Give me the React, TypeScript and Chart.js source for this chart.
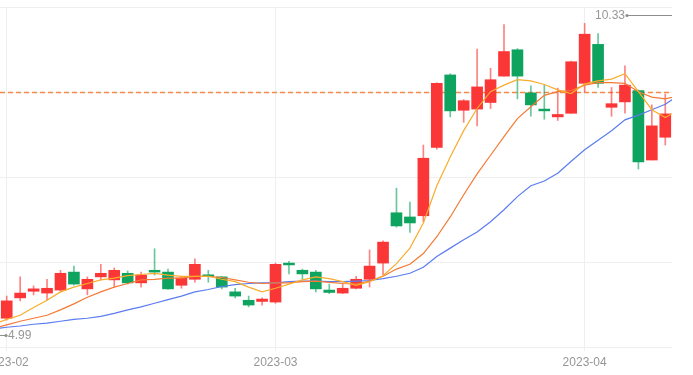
import React, { useEffect, useRef } from "react";
import { Chart, registerables } from "chart.js";

Chart.register(...registerables);

// Trading sessions shown in the window
const dates = [
  "2023-02-01", "2023-02-02", "2023-02-03", "2023-02-06", "2023-02-07", "2023-02-08", "2023-02-09", "2023-02-10",
  "2023-02-13", "2023-02-14", "2023-02-15", "2023-02-16", "2023-02-17", "2023-02-20", "2023-02-21", "2023-02-22",
  "2023-02-23", "2023-02-24", "2023-02-27", "2023-02-28",
  "2023-03-01", "2023-03-02", "2023-03-03", "2023-03-06", "2023-03-07", "2023-03-08", "2023-03-09", "2023-03-10",
  "2023-03-13", "2023-03-14", "2023-03-15", "2023-03-16", "2023-03-17", "2023-03-20", "2023-03-21", "2023-03-22",
  "2023-03-23", "2023-03-24", "2023-03-27", "2023-03-28", "2023-03-29", "2023-03-30", "2023-03-31",
  "2023-04-03", "2023-04-04", "2023-04-06", "2023-04-07", "2023-04-10", "2023-04-11", "2023-04-12",
];

const opens = [
  5.27, 5.61, 5.72, 5.69, 5.74, 6.04, 5.76, 5.96, 5.91, 6.02,
  5.86, 6.07, 6.04, 5.82, 5.92, 5.99, 5.96, 5.71, 5.57, 5.55,
  5.54, 6.19, 6.07, 6.04, 5.74, 5.69, 5.77, 5.92, 6.19, 7.03,
  6.96, 6.98, 8.12, 9.33, 8.74, 8.76, 8.87, 9.31, 9.75, 9.03,
  8.76, 8.63, 8.69, 9.19, 9.84, 8.79, 8.88, 9.07, 7.91, 8.29,
];
const highs = [
  5.64, 5.96, 5.81, 5.92, 6.07, 6.14, 5.96, 6.17, 6.11, 6.06,
  6.04, 6.43, 6.09, 5.97, 6.26, 6.07, 5.97, 5.77, 5.64, 5.61,
  6.19, 6.22, 6.09, 6.07, 5.84, 5.84, 5.97, 6.41, 6.56, 7.44,
  7.21, 8.16, 9.20, 9.35, 8.92, 9.76, 9.44, 10.17, 9.77, 9.15,
  9.16, 9.11, 9.56, 10.19, 10.02, 9.12, 9.48, 9.08, 8.83, 9.01,
];
const lows = [
  5.24, 5.56, 5.66, 5.57, 5.71, 5.82, 5.66, 5.91, 5.79, 5.84,
  5.79, 5.99, 5.75, 5.77, 5.87, 5.87, 5.76, 5.61, 5.46, 5.49,
  5.52, 6.01, 5.92, 5.71, 5.68, 5.68, 5.76, 5.79, 5.99, 6.79,
  6.70, 6.88, 8.09, 8.63, 8.54, 8.48, 8.77, 9.31, 8.93, 8.64,
  8.59, 8.57, 8.69, 9.05, 9.12, 8.64, 8.69, 7.76, 7.91, 8.16,
];
const closes = [
  5.56, 5.69, 5.76, 5.77, 6.02, 5.84, 5.92, 6.02, 6.07, 5.86,
  5.99, 6.04, 5.76, 5.94, 6.17, 5.97, 5.79, 5.64, 5.49, 5.59,
  6.17, 6.16, 6.01, 5.76, 5.70, 5.77, 5.92, 6.14, 6.54, 6.81,
  6.86, 7.94, 9.19, 8.73, 8.90, 9.13, 9.25, 9.72, 9.31, 8.83,
  8.73, 8.67, 9.55, 10.01, 9.19, 8.85, 9.16, 7.88, 8.48, 8.68,
];

// Moving averages: first value = session before dates[0], last value = session after the last date
const ma5 = [
  5.17, 5.25, 5.32, 5.45, 5.57, 5.71, 5.79, 5.85, 5.91, 5.94, 5.98,
  6.00, 6.02, 5.99, 5.97, 5.97, 5.97, 5.92, 5.88, 5.79, 5.71,
  5.77, 5.84, 5.91, 5.96, 5.93, 5.88, 5.82, 5.88, 5.98, 6.18,
  6.44, 6.86, 7.48, 7.96, 8.40, 8.77, 9.05, 9.16, 9.25, 9.23,
  9.17, 9.08, 9.02, 9.18, 9.23, 9.26, 9.35, 9.05, 8.75, 8.62, 8.75,
];
const ma10 = [
  5.10, 5.16, 5.22, 5.27, 5.32, 5.41, 5.51, 5.62, 5.71, 5.79, 5.85,
  5.91, 5.92, 5.94, 5.94, 5.97, 5.97, 5.95, 5.91, 5.87, 5.85,
  5.86, 5.86, 5.88, 5.89, 5.87, 5.85, 5.84, 5.89, 5.97, 6.09,
  6.17, 6.35, 6.63, 6.96, 7.33, 7.68, 7.99, 8.30, 8.60, 8.80,
  8.99, 9.05, 9.07, 9.16, 9.20, 9.20, 9.19, 9.05, 8.96, 8.93, 8.98,
];
const ma20 = [
  5.09, 5.12, 5.14, 5.17, 5.19, 5.22, 5.25, 5.27, 5.30, 5.35, 5.41,
  5.46, 5.52, 5.58, 5.64, 5.71, 5.75, 5.80, 5.83, 5.85, 5.86,
  5.86, 5.88, 5.89, 5.89, 5.88, 5.88, 5.89, 5.90, 5.93, 5.97,
  6.02, 6.12, 6.30, 6.44, 6.58, 6.71, 6.88, 7.08, 7.30, 7.48,
  7.56, 7.69, 7.89, 8.08, 8.24, 8.40, 8.58, 8.66, 8.75, 8.84, 8.99,
];

const highMark = 10.33;
const lowMark = 4.99;
const refPrice = 9.05;
const yMin = 4.79;
const yMax = 10.4635;

const UP = "#fb3636";
const DOWN = "#0ea460";
const UP_WICK = "rgba(251,54,54,0.62)";
const DOWN_WICK = "rgba(14,164,96,0.62)";
const GRID = "#efefef";
const TEXT = "#979797";

const monthTicks = dates
  .map((d, i) => ({ i, m: d.slice(0, 7) }))
  .filter((o, k, arr) => k === 0 || arr[k - 1].m !== o.m);

const marksPlugin = {
  id: "marks",
  beforeDatasetsDraw(chart: any) {
    const { ctx, chartArea, scales } = chart;
    const py = Math.round(scales.y.getPixelForValue(refPrice)) + 0.5;
    ctx.save();
    ctx.strokeStyle = "#f6894a";
    ctx.lineWidth = 1.3;
    ctx.setLineDash([5, 3]);
    ctx.beginPath();
    ctx.moveTo(chartArea.left, py);
    ctx.lineTo(chartArea.right, py);
    ctx.stroke();
    ctx.restore();
  },
  afterDatasetsDraw(chart: any) {
    const { ctx, chartArea, scales } = chart;
    ctx.save();
    ctx.font = "12px 'Liberation Sans', Arial, sans-serif";
    ctx.fillStyle = TEXT;
    ctx.strokeStyle = "#8e8e8e";
    ctx.lineWidth = 1;
    // high marker
    const yh = Math.round(scales.y.getPixelForValue(highMark)) + 0.5;
    const xr = chartArea.right;
    const xd = xr - 45;
    ctx.beginPath();
    ctx.moveTo(xr, yh);
    ctx.lineTo(xd, yh);
    ctx.stroke();
    ctx.beginPath();
    ctx.arc(xd, yh, 1.6, 0, Math.PI * 2);
    ctx.fillStyle = "#8e8e8e";
    ctx.fill();
    ctx.fillStyle = TEXT;
    ctx.textAlign = "right";
    ctx.textBaseline = "middle";
    ctx.fillText(highMark.toFixed(2), xd - 2, yh);
    // low marker
    const yl = Math.round(scales.y.getPixelForValue(lowMark)) + 0.5;
    const xl = chartArea.left;
    const xd2 = xl + 6;
    ctx.beginPath();
    ctx.moveTo(xl, yl);
    ctx.lineTo(xd2, yl);
    ctx.stroke();
    ctx.beginPath();
    ctx.arc(xd2, yl, 1.6, 0, Math.PI * 2);
    ctx.fillStyle = "#8e8e8e";
    ctx.fill();
    ctx.fillStyle = TEXT;
    ctx.textAlign = "left";
    ctx.fillText(lowMark.toFixed(2), xd2 + 2, yl);
    ctx.restore();
  },
};

export default function App() {
  const ref = useRef<HTMLCanvasElement | null>(null);

  useEffect(() => {
    if (!ref.current) return;
    Chart.defaults.font.family = "'Liberation Sans', Arial, sans-serif";
    const isUp = opens.map((o, i) => closes[i] >= o);
    const maLine = (arr: number[], color: string, label: string) => ({
      type: "line" as const,
      label,
      data: arr.map((v, k) => ({ x: k - 1, y: v })),
      borderColor: color,
      borderWidth: 1.2,
      pointRadius: 0,
      tension: 0,
      fill: false,
      order: 0,
    });
    const chart = new Chart(ref.current, {
      type: "bar",
      data: {
        datasets: [
          maLine(ma5, "#f9ac2c", "MA5"),
          maLine(ma10, "#f47a35", "MA10"),
          maLine(ma20, "#5b7cf0", "MA20"),
          {
            type: "bar",
            label: "body",
            data: opens.map((o, i) => ({ x: i, y: [Math.min(o, closes[i]), Math.max(o, closes[i])] })),
            backgroundColor: isUp.map((u) => (u ? UP : DOWN)),
            borderWidth: 0,
            barThickness: 11,
            minBarLength: 1.5,
            grouped: false,
            order: 1,
          } as any,
          {
            type: "bar",
            label: "wick",
            data: lows.map((l, i) => ({ x: i, y: [l, highs[i]] })),
            backgroundColor: isUp.map((u) => (u ? UP_WICK : DOWN_WICK)),
            borderWidth: 0,
            barThickness: 1,
            grouped: false,
            order: 2,
          } as any,
        ],
      },
      options: {
        animation: false,
        responsive: false,
        devicePixelRatio: 1,
        layout: { padding: { top: 7, right: 21, left: 0, bottom: 0 } },
        plugins: { legend: { display: false }, tooltip: { enabled: false } },
        scales: {
          x: {
            type: "linear",
            min: -0.5,
            max: dates.length - 0.5,
            offset: false,
            afterBuildTicks: (scale: any) => {
              scale.ticks = monthTicks.map((t) => ({ value: t.i }));
            },
            afterFit: (scale: any) => {
              scale.paddingLeft = 0;
              scale.paddingRight = 0;
              scale.height = 28;
            },
            ticks: {
              autoSkip: false,
              maxRotation: 0,
              padding: 4,
              color: TEXT,
              font: { size: 12 },
              callback: (value: any) => {
                const t = monthTicks.find((m) => m.i === value);
                return t ? t.m : "";
              },
            },
            grid: { color: GRID, tickLength: 4, offset: false },
            border: { display: false },
          },
          y: {
            type: "linear",
            position: "right",
            min: yMin,
            max: yMax,
            afterBuildTicks: (scale: any) => {
              const step = (yMax - yMin) / 4;
              scale.ticks = [0, 1, 2, 3, 4].map((k) => ({ value: yMin + k * step }));
            },
            afterFit: (scale: any) => {
              scale.width = 0;
            },
            ticks: { display: false },
            grid: { color: GRID, drawTicks: false },
            border: { display: false },
          },
        },
      } as any,
      plugins: [marksPlugin],
    });
    return () => chart.destroy();
  }, []);

  return (
    <div style={{ position: "fixed", left: 0, top: 0, width: 693, height: 375, background: "#fff" }}>
      <canvas ref={ref} width={693} height={375} style={{ display: "block" }} />
    </div>
  );
}
